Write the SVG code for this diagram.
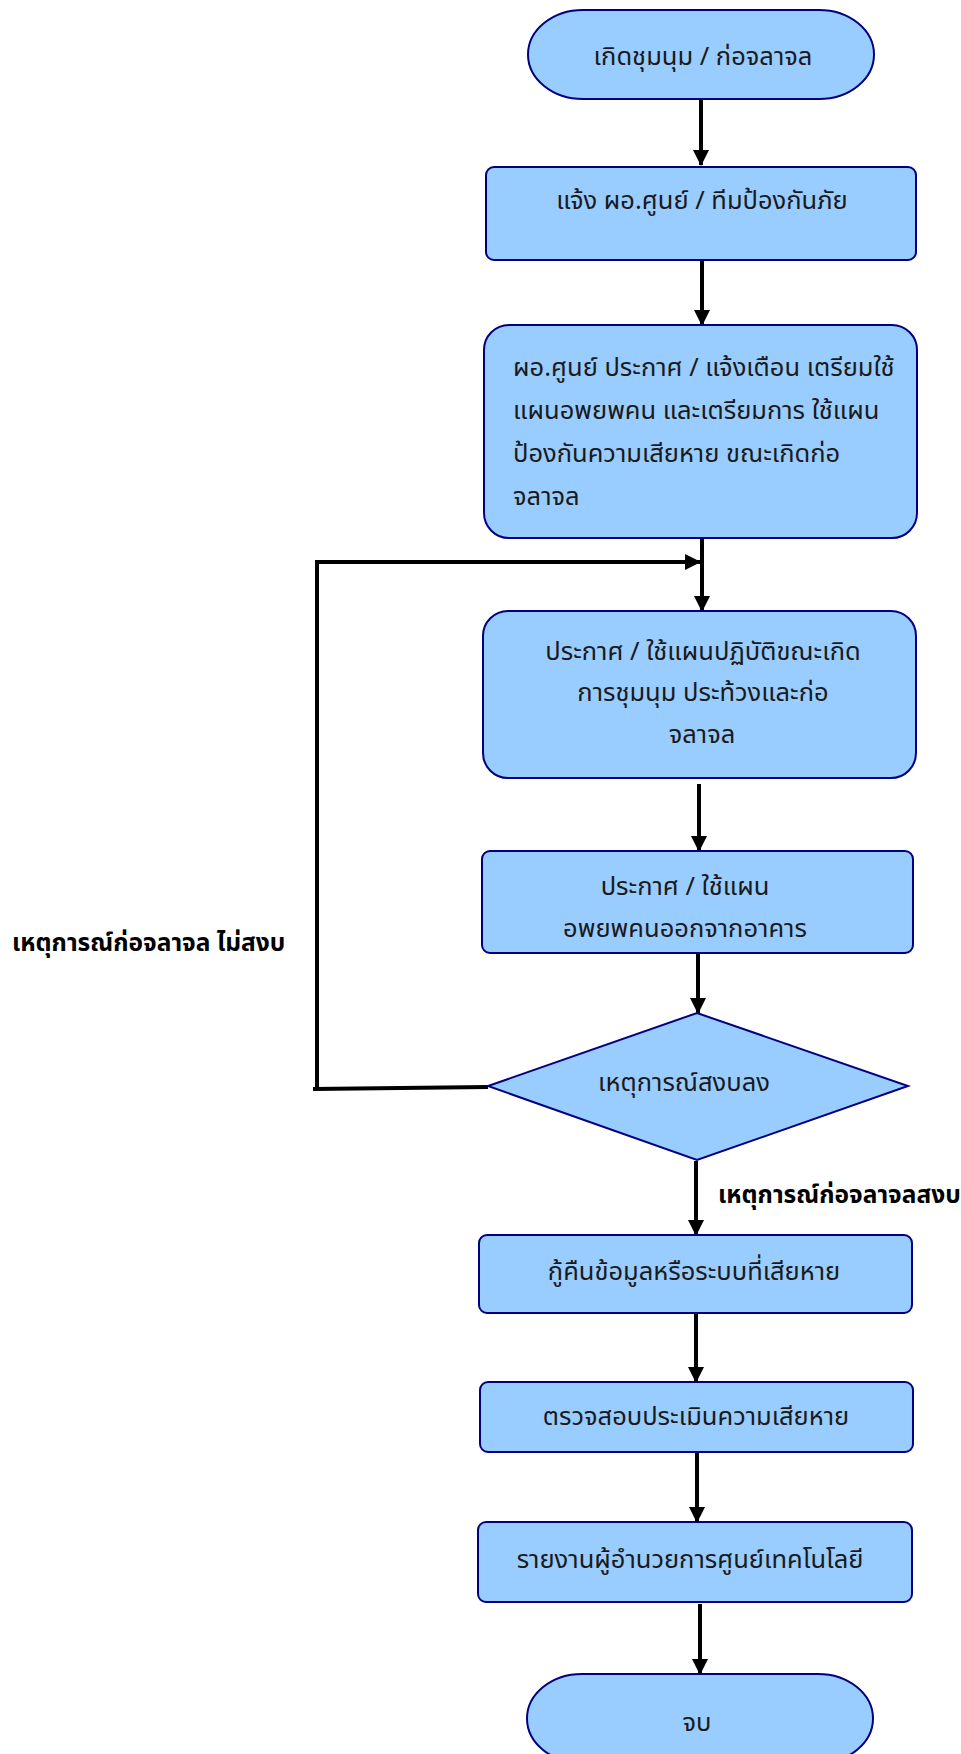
<svg xmlns="http://www.w3.org/2000/svg" width="961" height="1754" viewBox="0 0 961 1754">
  <style>
    .shape { fill: #99CCFF; stroke: #000080; stroke-width: 2; }
    .t { font-family: "Noto Sans Thai", "Noto Sans", "DejaVu Sans", sans-serif; font-size: 25.5px; fill: #1a1a1a; }
    .c { text-anchor: middle; }
    .b { font-weight: bold; font-size: 24.5px; fill: #000; }
    .wire { fill: none; stroke: #000; stroke-width: 4; }
  </style>
  <defs>
    <marker id="head" markerUnits="userSpaceOnUse" markerWidth="16" markerHeight="16" refX="15" refY="8" orient="auto">
      <path d="M0,0 L16,8 L0,16 z" fill="#000"/>
    </marker>
  </defs>
  <rect width="961" height="1754" fill="#fff"/>

  <g id="connectors">
    <line class="wire" x1="701" y1="100" x2="701" y2="165" marker-end="url(#head)"/>
    <line class="wire" x1="702" y1="261" x2="702" y2="325" marker-end="url(#head)"/>
    <line class="wire" x1="702" y1="538" x2="702" y2="611" marker-end="url(#head)"/>
    <line class="wire" x1="699" y1="784" x2="699" y2="851" marker-end="url(#head)"/>
    <line class="wire" x1="698" y1="954" x2="698" y2="1013" marker-end="url(#head)"/>
    <line class="wire" x1="696" y1="1161" x2="696" y2="1235" marker-end="url(#head)"/>
    <line class="wire" x1="696" y1="1314" x2="696" y2="1382" marker-end="url(#head)"/>
    <line class="wire" x1="697" y1="1453" x2="697" y2="1522" marker-end="url(#head)"/>
    <line class="wire" x1="700" y1="1604" x2="700" y2="1674" marker-end="url(#head)"/>
    <polyline class="wire" points="488,1087 313,1089 317,1089 317,562 700,562" marker-end="url(#head)"/>
  </g>

  <g id="start">
    <rect class="shape" x="528" y="10" width="346" height="89" rx="55" ry="44.5"/>
    <text class="t c" x="703" y="65">เกิดชุมนุม / ก่อจลาจล</text>
  </g>

  <g id="notify">
    <rect class="shape" x="486" y="167" width="430" height="93" rx="8"/>
    <text class="t c" x="702" y="209">แจ้ง ผอ.ศูนย์ / ทีมป้องกันภัย</text>
  </g>

  <g id="announce">
    <rect class="shape" x="484" y="325" width="433" height="213" rx="25"/>
    <text class="t" x="513" y="376">ผอ.ศูนย์ ประกาศ / แจ้งเตือน เตรียมใช้</text>
    <text class="t" x="513" y="419">แผนอพยพคน และเตรียมการ ใช้แผน</text>
    <text class="t" x="513" y="462">ป้องกันความเสียหาย ขณะเกิดก่อ</text>
    <text class="t" x="513" y="505">จลาจล</text>
  </g>

  <g id="riot-plan">
    <rect class="shape" x="483" y="611" width="433" height="167" rx="25"/>
    <text class="t c" x="703" y="660">ประกาศ / ใช้แผนปฏิบัติขณะเกิด</text>
    <text class="t c" x="703" y="701">การชุมนุม ประท้วงและก่อ</text>
    <text class="t c" x="702" y="743">จลาจล</text>
  </g>

  <g id="evacuate">
    <rect class="shape" x="482" y="851" width="431" height="102" rx="8"/>
    <text class="t c" x="685" y="895">ประกาศ / ใช้แผน</text>
    <text class="t c" x="685" y="937">อพยพคนออกจากอาคาร</text>
  </g>

  <g id="decision">
    <polygon class="shape" points="697,1013 908,1086 697,1160 488,1086"/>
    <text class="t c" x="684" y="1091">เหตุการณ์สงบลง</text>
  </g>

  <g id="recover">
    <rect class="shape" x="479" y="1235" width="433" height="78" rx="8"/>
    <text class="t c" x="694" y="1280">กู้คืนข้อมูลหรือระบบที่เสียหาย</text>
  </g>

  <g id="assess">
    <rect class="shape" x="480" y="1382" width="433" height="70" rx="8"/>
    <text class="t c" x="696" y="1425">ตรวจสอบประเมินความเสียหาย</text>
  </g>

  <g id="report">
    <rect class="shape" x="478" y="1522" width="434" height="80" rx="8"/>
    <text class="t c" x="690" y="1568">รายงานผู้อำนวยการศูนย์เทคโนโลยี</text>
  </g>

  <g id="end">
    <rect class="shape" x="527" y="1674" width="346" height="89" rx="55" ry="44.5"/>
    <text class="t c" x="697" y="1731">จบ</text>
  </g>

  <g id="labels">
    <text class="t b" x="12" y="951">เหตุการณ์ก่อจลาจล ไม่สงบ</text>
    <text class="t b" x="718" y="1203">เหตุการณ์ก่อจลาจลสงบ</text>
  </g>
</svg>
